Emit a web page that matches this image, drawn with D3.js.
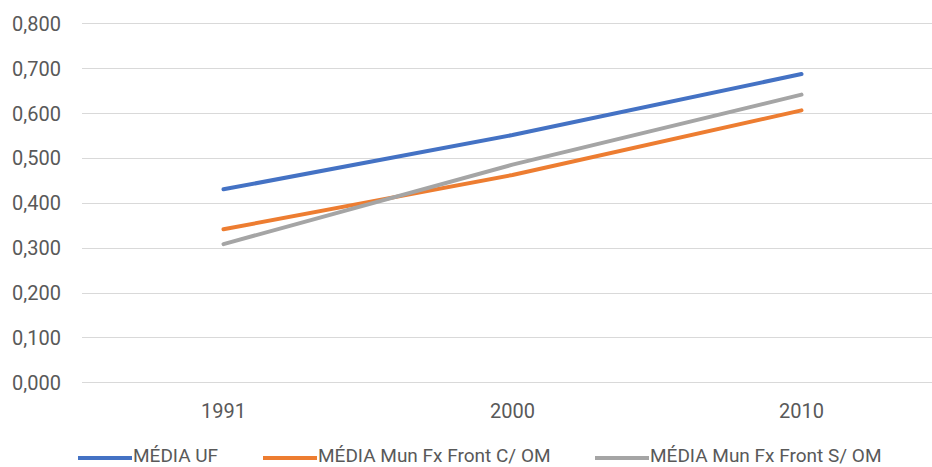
<!doctype html>
<html lang="pt">
<head>
    <meta charset="UTF-8">
    <title>MÉDIA UF x Mun Fx Front</title>
    <script src="https://cdnjs.cloudflare.com/ajax/libs/d3/7.8.5/d3.min.js"></script>
    <style>
        body { margin: 0; background: #fff; }
        svg text {
            font-family: "Roboto", "Liberation Sans", sans-serif;
            fill: #595959;
        }
    </style>
</head>
<body>
<svg id="chart" width="932" height="467"></svg>

<script>
    // dados
    var anos = ['1991', '2000', '2010'];
    var mediaUF = [0.430, 0.551, 0.687];
    var mediaComOM = [0.341, 0.462, 0.606];
    var mediaSemOM = [0.308, 0.485, 0.641];
    var yTicks = [0, 0.1, 0.2, 0.3, 0.4, 0.5, 0.6, 0.7, 0.8];

    var series = [
        {nome: 'MÉDIA UF', valores: mediaUF, cor: '#4472C4'},
        {nome: 'MÉDIA Mun Fx Front C/ OM', valores: mediaComOM, cor: '#ED7D31'},
        {nome: 'MÉDIA Mun Fx Front S/ OM', valores: mediaSemOM, cor: '#A5A5A5'}
    ];

    var svg = d3.select('#chart');

    var x = d3.scaleBand()
        .domain(anos)
        .range([79, 946]);

    var y = d3.scaleLinear()
        .domain([0, 0.8])
        .range([382.3, 23.3]);

    var fmt = function (d) {
        return d3.format('.3f')(d).replace('.', ',');
    };

    // grade
    svg.append('g')
        .selectAll('line')
        .data(yTicks)
        .enter().append('line')
        .attr('x1', 82)
        .attr('x2', 932)
        .attr('y1', function (d) { return Math.round(y(d)) + 0.5; })
        .attr('y2', function (d) { return Math.round(y(d)) + 0.5; })
        .attr('stroke', '#d9d9d9')
        .attr('stroke-width', 1);

    // eixo y
    var yAxis = svg.append('g')
        .attr('transform', 'translate(61,0)')
        .call(d3.axisLeft(y).tickValues(yTicks).tickFormat(fmt).tickSize(0).tickPadding(0));
    yAxis.select('.domain').remove();
    yAxis.selectAll('text')
        .attr('font-size', '20px')
        .attr('dy', '0.35em');

    // eixo x
    var xAxis = svg.append('g')
        .attr('transform', 'translate(0,411)')
        .call(d3.axisBottom(x).tickSize(0).tickPadding(0));
    xAxis.select('.domain').remove();
    xAxis.selectAll('text')
        .attr('font-size', '20px')
        .attr('dy', '0.35em');

    // linhas
    var line = d3.line()
        .x(function (d, i) { return x(anos[i]) + x.bandwidth() / 2; })
        .y(function (d) { return y(d); });

    svg.append('g')
        .selectAll('path')
        .data(series)
        .enter().append('path')
        .attr('d', function (d) { return line(d.valores); })
        .attr('fill', 'none')
        .attr('stroke', function (d) { return d.cor; })
        .attr('stroke-width', 4)
        .attr('stroke-linecap', 'round');

    // legenda
    var legX = [78, 263, 595];
    var leg = svg.append('g')
        .selectAll('g')
        .data(series)
        .enter().append('g')
        .attr('transform', function (d, i) { return 'translate(' + legX[i] + ',458)'; });

    leg.append('line')
        .attr('x1', 0)
        .attr('x2', 54)
        .attr('stroke', function (d) { return d.cor; })
        .attr('stroke-width', 4);

    leg.append('text')
        .attr('x', 55)
        .attr('y', 4)
        .attr('font-size', '19px')
        .text(function (d) { return d.nome; });
</script>
</body>
</html>
